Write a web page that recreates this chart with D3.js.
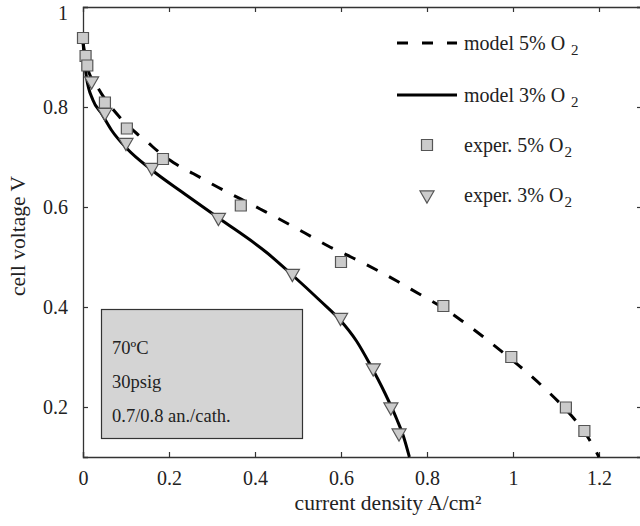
<!DOCTYPE html>
<html>
<head>
<meta charset="utf-8">
<script src="https://cdn.jsdelivr.net/npm/d3@7"></script>
<style>
	body { margin: 0; background: #fff; }
	svg { font-family: "Liberation Serif", "Times New Roman", serif; }
</style>
</head>
<body>
<svg id="chart" width="640" height="526"></svg>
<script>
// tick values
let xTicks = [0, 0.2, 0.4, 0.6, 0.8, 1, 1.2];
let yTicks = [0.2, 0.4, 0.6, 0.8, 1];

// model curves [current density, voltage]
let model5 = [[0, 0.93], [0.01, 0.88], [0.035, 0.838], [0.085, 0.78], [0.125, 0.747], [0.148, 0.731],
	[0.179, 0.708], [0.21, 0.689], [0.256, 0.667], [0.302, 0.645], [0.412, 0.596], [0.465, 0.572],
	[0.516, 0.548], [0.57, 0.522], [0.628, 0.498], [0.683, 0.474], [0.73, 0.452], [0.78, 0.427],
	[0.838, 0.398], [0.88, 0.373], [0.93, 0.341], [0.981, 0.306], [1.03, 0.271], [1.08, 0.232],
	[1.123, 0.195], [1.151, 0.167], [1.176, 0.137], [1.2, 0.1]];
let model3 = [[0, 0.93], [0.004, 0.89], [0.008, 0.86], [0.023, 0.814], [0.043, 0.787], [0.066, 0.754],
	[0.102, 0.717], [0.16, 0.674], [0.235, 0.627], [0.317, 0.577], [0.427, 0.509], [0.488, 0.463],
	[0.551, 0.413], [0.599, 0.373], [0.636, 0.332], [0.667, 0.286], [0.702, 0.228], [0.73, 0.175],
	[0.745, 0.142], [0.759, 0.1]];

// experiments
let exper5 = [[0, 0.938], [0.006, 0.902], [0.01, 0.883], [0.051, 0.809], [0.102, 0.757], [0.186, 0.696],
	[0.367, 0.603], [0.6, 0.49], [0.838, 0.402], [0.996, 0.3], [1.123, 0.199], [1.166, 0.152]];
let exper3 = [[0.02, 0.852], [0.051, 0.789], [0.1, 0.729], [0.16, 0.679], [0.315, 0.579], [0.487, 0.467],
	[0.599, 0.379], [0.675, 0.278], [0.716, 0.2], [0.735, 0.148]];

let legendNames = ["model 5% O", "model 3% O", "exper. 5% O", "exper. 3% O"];
let boxLines = ["70ºC", "30psig", "0.7/0.8 an./cath."];

let svg = d3.select("#chart");
let width = 640;
let height = 526;
let margin = {left: 83, top: 7, right: -2, bottom: 69};

let x = d3.scaleLinear().domain([0, 1.3]).range([margin.left, width - margin.right]);
let y = d3.scaleLinear().domain([0.1, 1]).range([height - margin.bottom, margin.top]);

let axisColor = "#333";

// axes with inward ticks
let axisBottomG = svg.append("g")
	.attr("transform", "translate(0," + y(0.1) + ")")
	.call(d3.axisBottom(x).tickValues(xTicks).tickSize(-5).tickPadding(14).tickFormat(d => d));
let axisTopG = svg.append("g")
	.attr("transform", "translate(0," + y(1) + ")")
	.call(d3.axisTop(x).tickValues(xTicks.slice(1)).tickSize(-5).tickFormat(""));
let axisLeftG = svg.append("g")
	.attr("transform", "translate(" + x(0) + ",0)")
	.call(d3.axisLeft(y).tickValues(yTicks).tickSize(-5).tickPadding(15).tickFormat(d => d));
let axisRightG = svg.append("g")
	.attr("transform", "translate(" + x(1.3) + ",0)")
	.call(d3.axisRight(y).tickValues(yTicks).tickSize(-5).tickFormat(""));

[axisBottomG, axisTopG, axisLeftG, axisRightG].forEach(function(g) {
	g.selectAll("path").attr("stroke", axisColor).attr("stroke-width", 1.3);
	g.selectAll("line").attr("stroke", axisColor).attr("stroke-width", 1.2);
	g.selectAll("text").attr("font-family", "Liberation Serif").attr("font-size", 20).attr("fill", "#222");
});
// the top "1" label sits a little lower than its tick
axisLeftG.selectAll(".tick text").filter(d => d === 1).attr("dy", "0.6em");

// axis labels
svg.append("text")
	.attr("x", 388).attr("y", 510)
	.attr("text-anchor", "middle")
	.attr("font-size", 21.5).attr("fill", "#222")
	.text("current density A/cm²");
svg.append("text")
	.attr("transform", "translate(25,236) rotate(-90)")
	.attr("text-anchor", "middle")
	.attr("font-size", 21.5).attr("fill", "#222")
	.text("cell voltage V");

// conditions box
svg.append("rect")
	.attr("x", 101.5).attr("y", 309.5).attr("width", 201).attr("height", 129)
	.attr("fill", "#d4d4d4").attr("stroke", "#333").attr("stroke-width", 1.2);
svg.selectAll(".boxline")
	.data(boxLines)
	.enter().append("text")
	.attr("class", "boxline")
	.attr("x", 112)
	.attr("y", (d, i) => 354 + i * 34)
	.attr("font-size", 18.5).attr("fill", "#222")
	.text(d => d);

// model curves
let line = d3.line()
	.x(d => x(d[0]))
	.y(d => y(d[1]))
	.curve(d3.curveMonotoneX);

svg.append("path")
	.datum(model5)
	.attr("d", line)
	.attr("fill", "none").attr("stroke", "#000")
	.attr("stroke-width", 3).attr("stroke-dasharray", "12,13");
svg.append("path")
	.datum(model3)
	.attr("d", line)
	.attr("fill", "none").attr("stroke", "#000")
	.attr("stroke-width", 3);

// experimental markers
let square = d3.symbol().type(d3.symbolSquare).size(121);
let tri = d3.symbol().type(d3.symbolTriangle).size(85);
let markFill = "#cbcbcb";
let markStroke = "#555";

svg.append("g").selectAll("path")
	.data(exper3)
	.enter().append("path")
	.attr("d", tri)
	.attr("transform", d => "translate(" + x(d[0]) + "," + y(d[1]) + ") rotate(180)")
	.attr("fill", markFill).attr("stroke", markStroke).attr("stroke-width", 1.2);
svg.append("g").selectAll("path")
	.data(exper5)
	.enter().append("path")
	.attr("d", square)
	.attr("transform", d => "translate(" + x(d[0]) + "," + y(d[1]) + ")")
	.attr("fill", markFill).attr("stroke", markStroke).attr("stroke-width", 1.2);

// legend
let legendY = [43, 95, 145, 195];
let lg = svg.append("g");
lg.append("line")
	.attr("x1", 397).attr("x2", 457).attr("y1", legendY[0]).attr("y2", legendY[0])
	.attr("stroke", "#000").attr("stroke-width", 3).attr("stroke-dasharray", "11,14");
lg.append("line")
	.attr("x1", 397).attr("x2", 457).attr("y1", legendY[1]).attr("y2", legendY[1])
	.attr("stroke", "#000").attr("stroke-width", 3);
lg.append("path")
	.attr("d", square)
	.attr("transform", "translate(427," + legendY[2] + ")")
	.attr("fill", markFill).attr("stroke", markStroke).attr("stroke-width", 1.2);
lg.append("path")
	.attr("d", tri)
	.attr("transform", "translate(427," + legendY[3] + ") rotate(180)")
	.attr("fill", markFill).attr("stroke", markStroke).attr("stroke-width", 1.2);

legendNames.forEach(function(name, i) {
	let t = lg.append("text")
		.attr("x", 464).attr("y", legendY[i] + 7)
		.attr("font-size", 20).attr("fill", "#222")
		.text(name);
	t.append("tspan")
		.attr("dx", i < 2 ? 6 : 1).attr("dy", 5)
		.attr("font-size", 15)
		.text("2");
});
</script>
</body>
</html>
